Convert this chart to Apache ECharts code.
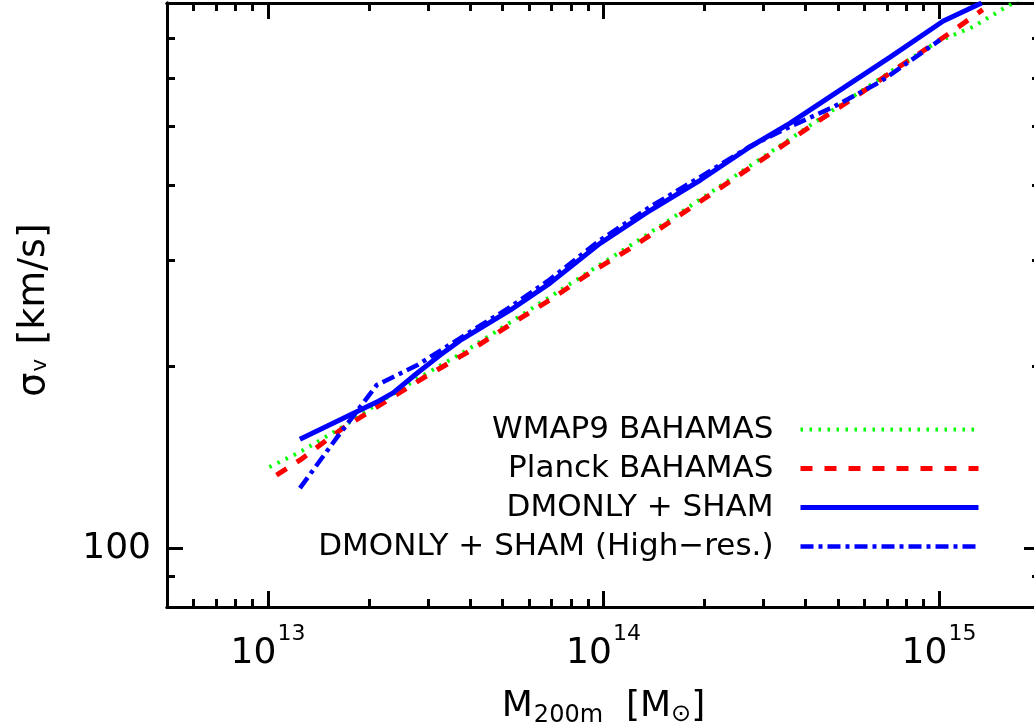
<!DOCTYPE html>
<html><head><meta charset="utf-8">
<script src="https://cdn.jsdelivr.net/npm/echarts@6/dist/echarts.min.js"></script>
<style>html,body{margin:0;padding:0;background:#fff}#c{width:1034px;height:727px}</style>
</head><body><div id="c"></div>
<script>
// ---- data ----
const seriesNames = ['WMAP9 BAHAMAS', 'Planck BAHAMAS', 'DMONLY + SHAM', 'DMONLY + SHAM (High\u2212res.)'];

const massWMAP9  = [1.01e13, 1.245e13, 1.64e13, 2.20e13, 2.90e13, 3.92e13, 5.16e13, 6.93e13, 9.12e13, 1.22e14, 1.61e14, 2.12e14, 3.20e14, 4.27e14, 5.62e14, 7.50e14, 9.86e14, 1.26e15, 1.66e15, 1.85e15];
const sigmaWMAP9 = [136.4, 144.4, 158, 176, 193.5, 213, 235, 261, 288, 319, 353, 391, 456, 508, 563, 626, 690, 730, 800, 835];

const massPlanck  = [1.06e13, 1.245e13, 1.64e13, 2.20e13, 2.90e13, 3.92e13, 5.16e13, 6.93e13, 9.12e13, 1.22e14, 1.61e14, 2.12e14, 3.20e14, 4.27e14, 5.62e14, 7.50e14, 9.86e14, 1.13e15, 1.35e15];
const sigmaPlanck = [132.3, 140, 157, 174, 191.5, 211, 233, 258, 286, 315.5, 350, 388, 453, 506, 559, 624, 690, 727, 780];

const massDM  = [1.245e13, 2.11e13, 2.36e13, 2.78e13, 3.26e13, 3.74e13, 5.27e13, 6.93e13, 9.77e13, 1.38e14, 1.94e14, 2.73e14, 3.60e14, 5.07e14, 7.15e14, 1.03e15, 1.34e15];
const sigmaDM = [151.7, 174.7, 181, 195, 209, 221, 248, 275, 320, 363, 407, 462, 506, 574, 651, 747, 800];

const massHR  = [1.245e13, 1.61e13, 2.11e13, 2.78e13, 3.74e13, 5.27e13, 6.93e13, 9.77e13, 1.38e14, 1.94e14, 2.73e14, 3.43e14, 4.83e14, 6.67e14, 1.007e15];
const sigmaHR = [125.9, 153, 186.5, 201, 223, 251, 279, 324, 368, 412, 463, 493, 538, 592, 695];

// axis ranges and ticks
const xRange = [5e12, 2e15];
const yRange = [80, 800];
const xMajorTicks = [1e13, 1e14, 1e15];
const xMinorTicks = [6e12, 7e12, 8e12, 9e12, 2e13, 3e13, 4e13, 5e13, 6e13, 7e13, 8e13, 9e13, 2e14, 3e14, 4e14, 5e14, 6e14, 7e14, 8e14, 9e14];
const yMajorTicks = [100];
const yMinorTicks = [90, 200, 300, 400, 500, 600, 700];

// ---- chart ----
const FONT = 'DejaVu Sans';
const L = v => Math.log10(v);
const zip = (a, b) => a.map((v, i) => [v, b[i]]);

function decoAxis(kind, pos, values, len, label, extra) {
  const r = kind === 'x' ? xRange : yRange;
  return Object.assign({
    type: 'value', gridIndex: 0, position: pos,
    min: L(r[0]), max: L(r[1]),
    axisLine: { show: true, onZero: false, lineStyle: { color: '#000', width: 3 } },
    axisTick: { show: true, inside: true, length: len, customValues: values.map(L), lineStyle: { color: '#000', width: 3 } },
    axisLabel: label || { show: false },
    splitLine: { show: false },
    minorTick: { show: false }
  }, extra || {});
}

const xLabel = {
  show: true, customValues: xMajorTicks.map(L), margin: 16,
  formatter: v => '{b|10}{s|' + Math.round(v) + '}',
  rich: {
    b: { fontFamily: FONT, fontSize: 36, color: '#000' },
    s: { fontFamily: FONT, fontSize: 22, color: '#000', padding: [0, 0, 40, 1] }
  }
};
const yLabel = {
  show: true, customValues: yMajorTicks.map(L), margin: 16,
  formatter: v => String(Math.round(Math.pow(10, v))),
  fontFamily: FONT, fontSize: 36, color: '#000'
};

const chart = echarts.init(document.getElementById('c'), null, { renderer: 'canvas' });
chart.setOption({
  animation: false,
  backgroundColor: '#fff',
  textStyle: { fontFamily: FONT },
  grid: { left: 167, top: 3, right: -6, bottom: 120, containLabel: false, outerBoundsMode: 'none' },
  xAxis: [
    { type: 'log', min: xRange[0], max: xRange[1], show: false, gridIndex: 0 },
    decoAxis('x', 'bottom', xMajorTicks, 16, xLabel, {
      name: '{a|M}{sub|200m}{a|  [M}{sub2|\u2299}{a|]}',
      nameLocation: 'middle', nameGap: 79,
      nameTextStyle: { rich: {
        a: { fontFamily: FONT, fontSize: 36, color: '#000' },
        sub: { fontFamily: FONT, fontSize: 24, color: '#000', padding: [18, 0, 0, 1] },
        sub2: { fontFamily: FONT, fontSize: 24, color: '#000', padding: [16, 0, 0, 0] }
      } }
    }),
    decoAxis('x', 'bottom', xMinorTicks, 8),
    decoAxis('x', 'top', xMajorTicks, 16),
    decoAxis('x', 'top', xMinorTicks, 8)
  ],
  yAxis: [
    { type: 'log', min: yRange[0], max: yRange[1], show: false, gridIndex: 0 },
    decoAxis('y', 'left', yMajorTicks, 16, yLabel, {
      name: '{a|\u03c3}{sub|v}{a| [km/s]}',
      nameLocation: 'middle', nameGap: 114, nameRotate: 90,
      nameTextStyle: { padding: [0, 10, 0, 0], rich: {
        a: { fontFamily: FONT, fontSize: 38, color: '#000' },
        sub: { fontFamily: FONT, fontSize: 22, color: '#000', padding: [12, 2, 0, 1] }
      } }
    }),
    decoAxis('y', 'left', yMinorTicks, 8),
    decoAxis('y', 'right', yMajorTicks, 16),
    decoAxis('y', 'right', yMinorTicks, 8)
  ],
  legend: {
    orient: 'vertical', align: 'right', right: 48, top: 409,
    itemWidth: 178, itemHeight: 14, itemGap: 8,
    itemStyle: { opacity: 0 },
    lineStyle: { width: 'inherit' },
    textStyle: { fontFamily: FONT, fontSize: 31, color: '#000', lineHeight: 30, padding: [0, 22, 0, 0] },
    data: seriesNames
  },
  series: [
    { name: seriesNames[0], type: 'line', xAxisIndex: 0, yAxisIndex: 0, symbol: 'none', clip: true,
      data: zip(massWMAP9, sigmaWMAP9),
      lineStyle: { color: '#00ff00', width: 4, type: [2.5, 6.5] }, itemStyle: { color: '#00ff00' } },
    { name: seriesNames[1], type: 'line', xAxisIndex: 0, yAxisIndex: 0, symbol: 'none', clip: true,
      data: zip(massPlanck, sigmaPlanck),
      lineStyle: { color: '#ff0000', width: 5, type: [12, 12] }, itemStyle: { color: '#ff0000' } },
    { name: seriesNames[2], type: 'line', xAxisIndex: 0, yAxisIndex: 0, symbol: 'none', clip: true,
      data: zip(massDM, sigmaDM),
      lineStyle: { color: '#0000ff', width: 5 }, itemStyle: { color: '#0000ff' } },
    { name: seriesNames[3], type: 'line', xAxisIndex: 0, yAxisIndex: 0, symbol: 'none', clip: true,
      data: zip(massHR, sigmaHR),
      lineStyle: { color: '#0000ff', width: 4.5, type: [13, 5, 4, 5] }, itemStyle: { color: '#0000ff' } }
  ]
});
</script>
</body></html>
